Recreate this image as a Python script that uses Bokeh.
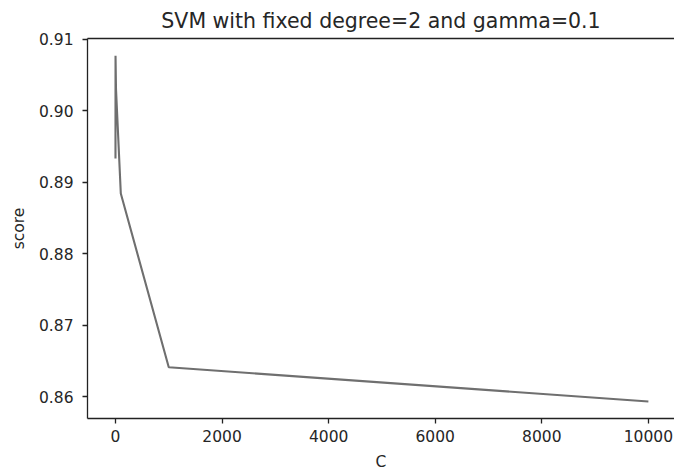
from bokeh.plotting import figure
from bokeh.models import LinearAxis, FixedTicker, NumeralTickFormatter, Range1d
from bokeh.embed import file_html
from bokeh.resources import INLINE

# data
C_values = [0.1, 1, 10, 100, 1000, 10000]
scores = [0.8933, 0.9077, 0.9030, 0.8884, 0.8641, 0.8593]
x_ticks = [0, 2000, 4000, 6000, 8000, 10000]
y_ticks = [0.86, 0.87, 0.88, 0.89, 0.90, 0.91]

FONT = "DejaVu Sans"
TXT = "#262626"

p = figure(width=674, height=473, output_backend="svg", toolbar_location=None,
           x_range=Range1d(-525, 10490), y_range=Range1d(0.85693, 0.9101),
           min_border_left=87, min_border_right=0, min_border_top=38, min_border_bottom=55,
           x_axis_label="C", y_axis_label="score")
p.title.text = "SVM with fixed degree=2 and gamma=0.1"
p.title.align = "center"
p.title.text_font = FONT
p.title.text_font_size = "20.5px"
p.title.text_font_style = "normal"
p.title.text_color = TXT
p.title.standoff = 12
p.outline_line_color = None
p.grid.visible = False
p.background_fill_color = "white"
p.border_fill_color = "white"

p.line(C_values, scores, line_color="#6f6f6f", line_width=2.1)

for ax in (p.xaxis[0], p.yaxis[0]):
    ax.axis_line_color = "#222222"
    ax.axis_line_width = 1.3
    ax.major_tick_line_color = "#222222"
    ax.major_tick_line_width = 1.3
    ax.major_tick_out = 5
    ax.major_tick_in = 0
    ax.minor_tick_line_color = None
    ax.major_label_text_font = FONT
    ax.major_label_text_font_size = "15.5px"
    ax.major_label_text_color = TXT
    ax.axis_label_text_font = FONT
    ax.axis_label_text_font_size = "15.5px"
    ax.axis_label_text_font_style = "normal"
    ax.axis_label_text_color = TXT

p.xaxis[0].ticker = FixedTicker(ticks=x_ticks)
p.xaxis[0].formatter = NumeralTickFormatter(format="0")
p.xaxis[0].major_label_standoff = 6
p.xaxis[0].axis_label_standoff = 8
p.yaxis[0].ticker = FixedTicker(ticks=y_ticks)
p.yaxis[0].formatter = NumeralTickFormatter(format="0.00")
p.yaxis[0].major_label_standoff = 9
p.yaxis[0].axis_label_standoff = 8

top = LinearAxis(ticker=FixedTicker(ticks=[]), axis_line_color="#222222", axis_line_width=1.3,
                 major_tick_line_color=None, minor_tick_line_color=None,
                 major_label_text_font_size="0px", major_label_standoff=0)
p.add_layout(top, "above")

open("out.html", "w").write(file_html(p, INLINE))
